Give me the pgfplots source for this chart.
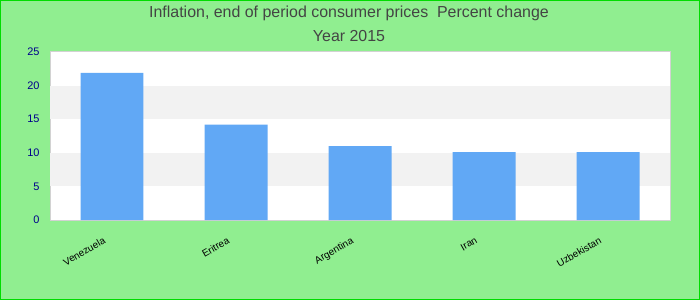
\documentclass[border=0pt]{standalone}
\usepackage{pgfplots}
\pgfplotsset{compat=1.18}
\usepackage{fontspec}
\setmainfont{Liberation Sans}
\definecolor{bgg}{RGB}{144,238,144}
\definecolor{bord}{RGB}{0,220,0}
\definecolor{barc}{RGB}{97,168,245}
\definecolor{band}{RGB}{242,242,242}
\definecolor{titc}{RGB}{68,68,68}
\definecolor{tickc}{RGB}{0,0,139}
\definecolor{axc}{RGB}{210,210,210}
\begin{document}
\begin{tikzpicture}[x=1bp,y=1bp]
\fill[bgg] (0,0) rectangle (700,300);
\draw[bord, line width=1bp] (0.5,0.5) rectangle (699.5,299.5);
\node[text=titc, font=\fontsize{16}{18}\selectfont] at (349,287) {Inflation, end of period consumer prices\ \ Percent change};
\node[text=titc, font=\fontsize{16}{18}\selectfont] at (349,264) {Year 2015};
\begin{axis}[
  at={(50bp,80bp)}, anchor=south west,
  scale only axis, width=620bp, height=168bp,
  xmin=-0.5, xmax=4.5, ymin=0, ymax=25,
  axis background/.style={fill=white},
  axis line style={axc, line width=1bp},
  xtick={0,1,2,3,4},
  xticklabels={Venezuela,Eritrea,Argentina,Iran,Uzbekistan},
  x tick label style={rotate=30, anchor=north east, font=\fontsize{10}{12}\selectfont, text=black, xshift=-13bp, yshift=-6bp},
  ytick={0,5,10,15,20,25},
  y tick label style={font=\fontsize{11}{13}\selectfont, text=tickc},
  /pgf/number format/assume math mode=true,
  major tick length=0pt,
  tick style={draw=none},
  yticklabel style={xshift=-7bp},
]
\fill[band] (axis cs:-0.5,5) rectangle (axis cs:4.5,10);
\fill[band] (axis cs:-0.5,15) rectangle (axis cs:4.5,20);
\addplot[ybar, bar width=0.508, fill=barc, draw=none] coordinates {(0,21.9) (1,14.2) (2,11.0) (3,10.1) (4,10.1)};
\end{axis}
\end{tikzpicture}
\end{document}
